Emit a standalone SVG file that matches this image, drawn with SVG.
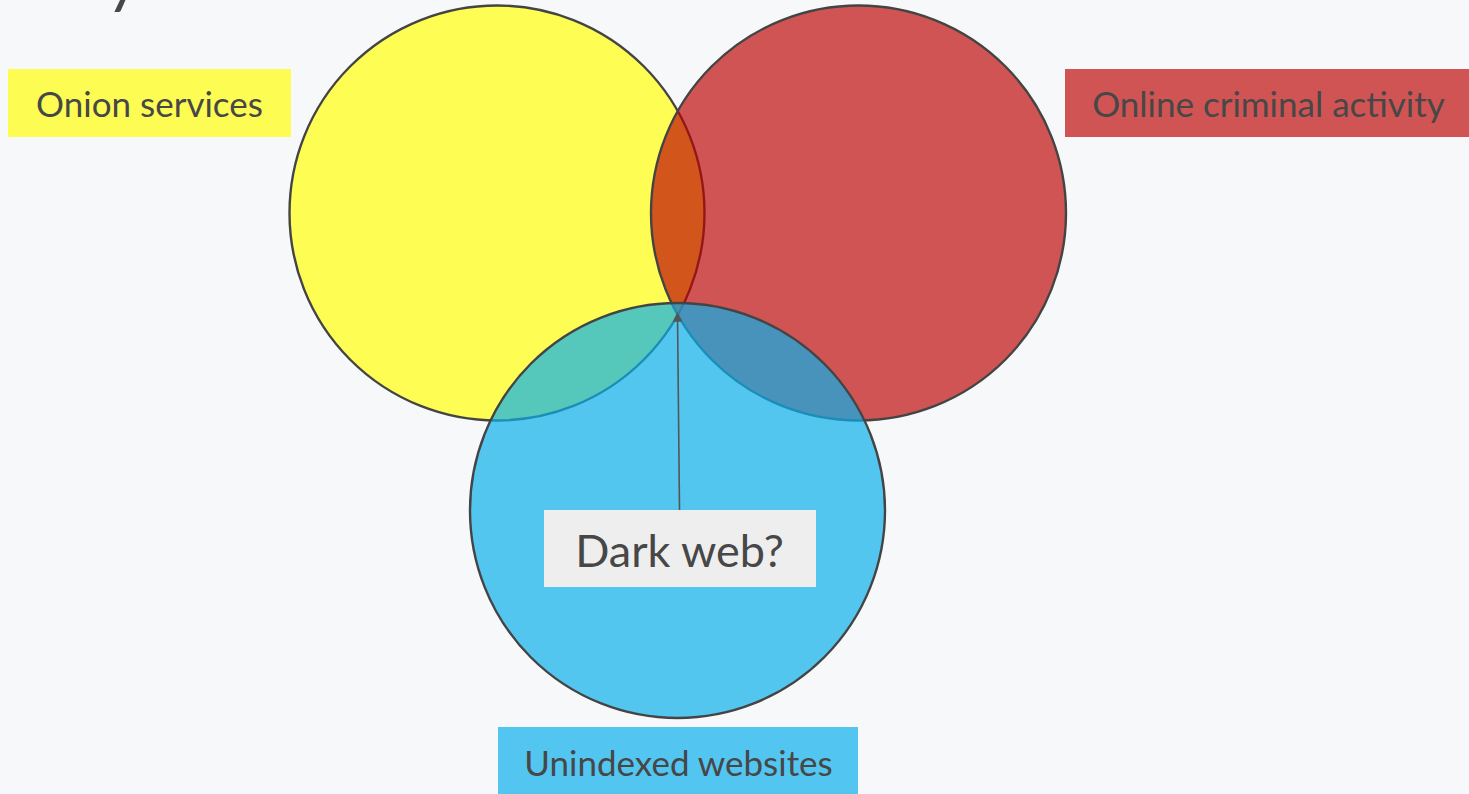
<svg xmlns="http://www.w3.org/2000/svg" width="1469" height="794" viewBox="0 0 1469 794">
<defs>
<style>
.lbl{font-family:Lato,"Noto Sans",sans-serif;fill:#474747}
.circ{stroke:#444;stroke-width:2.4}
</style>
<marker id="arr" viewBox="0 0 10 10" refX="8" refY="5" markerWidth="6" markerHeight="6" orient="auto">
<path d="M0,0 L10,5 L0,10 z" fill="#555"/>
</marker>
</defs>
<rect x="0" y="0" width="1469" height="794" fill="#F7F8FA"/>
<text class="lbl" x="106" y="1" font-size="66">y</text>
<g id="onion-circle"><circle class="circ" cx="497" cy="213" r="207.5" fill="#FFFF00" fill-opacity="0.67"/></g>
<g id="criminal-circle"><circle class="circ" cx="858.5" cy="213" r="207.5" fill="#BD0201" fill-opacity="0.667"/></g>
<g id="unindexed-circle"><circle class="circ" cx="677.5" cy="510.5" r="207.5" fill="#08AFEB" fill-opacity="0.69"/></g>
<g id="connectors">
<line x1="679.5" y1="510" x2="677.5" y2="314" stroke="#555" stroke-width="1.6" marker-end="url(#arr)"/>
</g>
<g id="onion-label">
<rect x="8" y="69" width="283" height="68" fill="#FCFC52"/>
<text class="lbl" x="149.5" y="117" font-size="35" text-anchor="middle">Onion services</text>
</g>
<g id="criminal-label">
<rect x="1065" y="69" width="404" height="68" fill="#D05454"/>
<text class="lbl" x="1268.5" y="117" font-size="35" text-anchor="middle">Online criminal activity</text>
</g>
<g id="unindexed-label">
<rect x="498" y="727" width="360" height="67" fill="#52C6F0"/>
<text class="lbl" x="678.5" y="776" font-size="35" text-anchor="middle">Unindexed websites</text>
</g>
<g id="darkweb-label">
<rect x="544" y="510" width="272" height="77" fill="#EEEEEE"/>
<text class="lbl" x="679.5" y="567" font-size="45" text-anchor="middle">Dark web?</text>
</g>
</svg>
